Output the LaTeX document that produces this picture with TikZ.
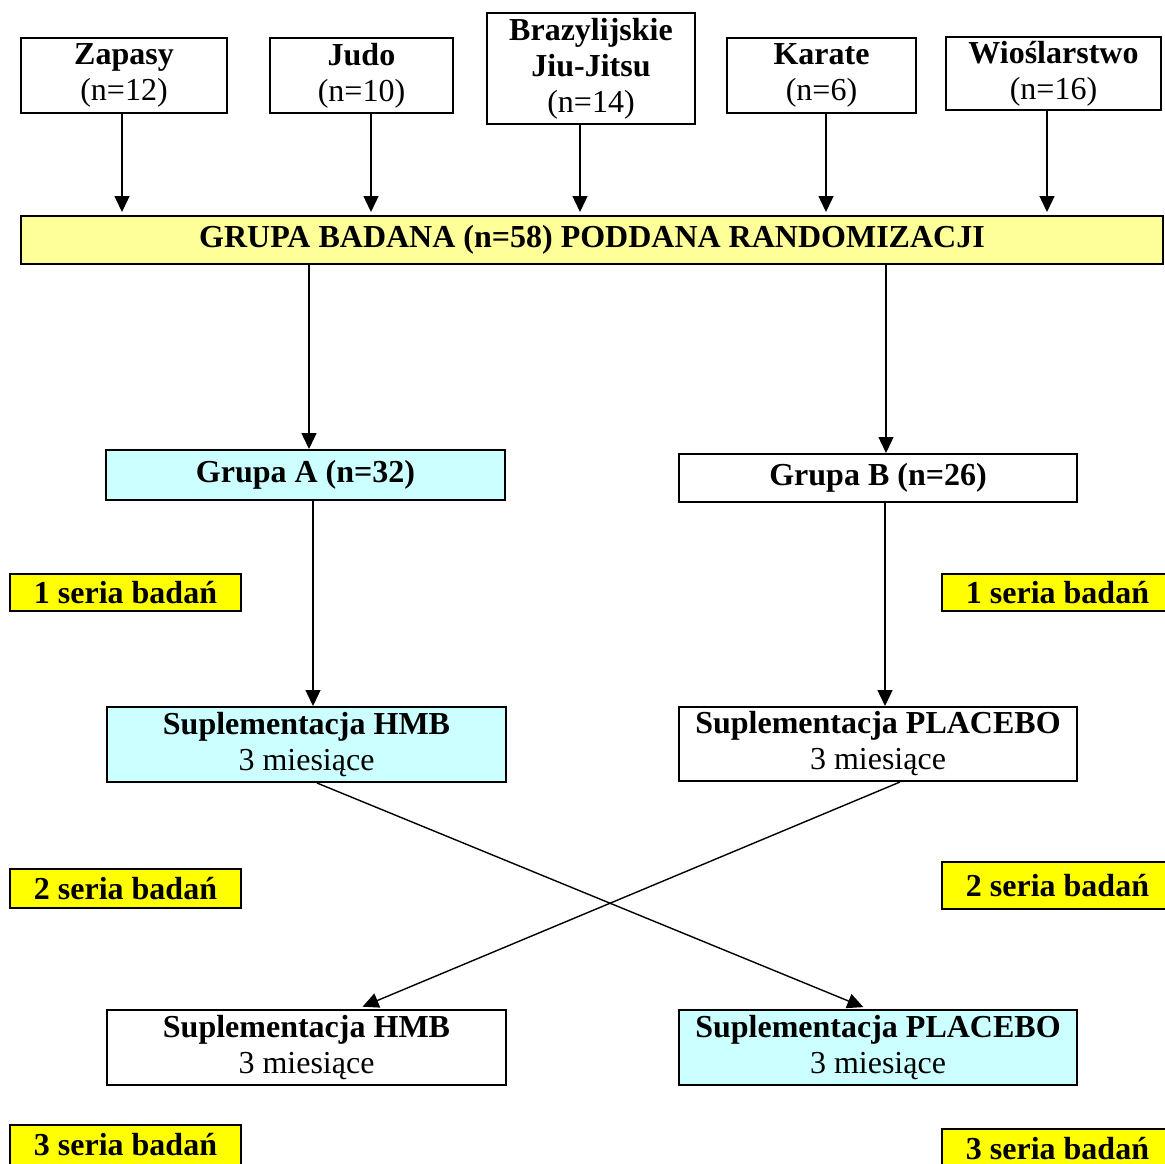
\documentclass[tikz,border=0pt]{standalone}
\usepackage{fontspec}
\setmainfont{Liberation Serif}
\usetikzlibrary{arrows.meta}
\definecolor{jasnyzolty}{RGB}{255,255,153}
\definecolor{blekit}{RGB}{204,255,255}
\definecolor{zolty}{RGB}{255,255,0}

\begin{document}
\begin{tikzpicture}[x=1pt,y=-1pt,
  pudlo/.style={draw,line width=2pt,inner sep=0pt,align=center,font=\fontsize{32}{36}\selectfont},
  seria/.style={draw,fill=zolty,line width=2.5pt,inner sep=0pt,minimum width=231pt,font=\fontsize{32}{36}\selectfont\bfseries},
  strz/.style={line width=1.4pt,-{Triangle[length=16pt,width=15pt]}}]
\clip (0,0) rectangle (1165,1163);

% dyscypliny
\node[pudlo,minimum width=206pt,minimum height=75pt] (zap) at (124,75.5) {\textbf{Zapasy}\\(n=12)};
\node[pudlo,minimum width=183pt,minimum height=75pt] (judo) at (361.5,75.5) {\textbf{Judo}\\(n=10)};
\node[pudlo,minimum width=208pt,minimum height=111pt] (bjj) at (591,68.5) {\textbf{Brazylijskie}\\\textbf{Jiu-Jitsu}\\(n=14)};
\node[pudlo,minimum width=189pt,minimum height=75pt] (kar) at (821.5,75.5) {\textbf{Karate}\\(n=6)};
\node[pudlo,minimum width=215pt,minimum height=73pt] (wios) at (1053.5,73.5) {\textbf{Wioślarstwo}\\(n=16)};

\node[pudlo,fill=jasnyzolty,minimum width=1142pt,minimum height=48pt] (grupa) at (592,240) {\textbf{GRUPA BADANA (n=58) PODDANA RANDOMIZACJI}};

% grupy
\node[pudlo,fill=blekit,minimum width=399pt,minimum height=50pt] (ga) at (305.5,475) {\textbf{Grupa A (n=32)}};
\node[pudlo,minimum width=398pt,minimum height=48pt] (gb) at (878,478) {\textbf{Grupa B (n=26)}};

\node[pudlo,fill=blekit,minimum width=399pt,minimum height=75pt] (hmb1) at (306.5,744.5) {\textbf{Suplementacja HMB}\\3 miesiące};
\node[pudlo,minimum width=398pt,minimum height=74pt] (pla1) at (878,744) {\textbf{Suplementacja PLACEBO}\\3 miesiące};
\node[pudlo,minimum width=399pt,minimum height=75pt] (hmb2) at (306.5,1047.5) {\textbf{Suplementacja HMB}\\3 miesiące};
\node[pudlo,fill=blekit,minimum width=398pt,minimum height=75pt] (pla2) at (878,1047.5) {\textbf{Suplementacja PLACEBO}\\3 miesiące};

% serie badan
\node[seria,minimum height=37pt] (s1l) at (125.5,592.5) {1 seria badań};
\node[seria,minimum height=37pt] (s1r) at (1057.5,592.5) {1 seria badań};
\node[seria,minimum height=39pt] (s2l) at (125.5,888.5) {2 seria badań};
\node[seria,minimum height=47pt] (s2r) at (1057.5,885.5) {2 seria badań};
\node[seria,minimum height=40pt] (s3l) at (125.5,1145) {3 seria badań};
\node[seria,minimum height=40pt] (s3r) at (1057.5,1149) {3 seria badań};

% strzalki
\draw[strz,shorten >=3pt] ([xshift=-2pt]zap.south) -- ([xshift=-2pt]zap.south |- grupa.north);
\draw[strz,shorten >=3pt] ([xshift=9.5pt]judo.south) -- ([xshift=9.5pt]judo.south |- grupa.north);
\draw[strz,shorten >=3pt] ([xshift=-11pt]bjj.south) -- ([xshift=-11pt]bjj.south |- grupa.north);
\draw[strz,shorten >=3pt] ([xshift=4.5pt]kar.south) -- ([xshift=4.5pt]kar.south |- grupa.north);
\draw[strz,shorten >=3pt] ([xshift=-6.5pt]wios.south) -- ([xshift=-6.5pt]wios.south |- grupa.north);

\draw[strz] ([xshift=3.5pt]ga.north |- grupa.south) -- ([xshift=3.5pt]ga.north);
\draw[strz] ([xshift=8pt]gb.north |- grupa.south) -- ([xshift=8pt]gb.north);
\draw[strz] ([xshift=6.5pt]hmb1.north |- ga.south) -- ([xshift=6.5pt]hmb1.north);
\draw[strz] ([xshift=7pt]pla1.north |- gb.south) -- ([xshift=7pt]pla1.north);

\draw[strz,shorten >=5pt] ([xshift=10.5pt]hmb1.south) -- ([xshift=-10pt]pla2.north);
\draw[strz,shorten >=6pt] ([xshift=22pt]pla1.south) -- ([xshift=50.5pt]hmb2.north);

\end{tikzpicture}
\end{document}
